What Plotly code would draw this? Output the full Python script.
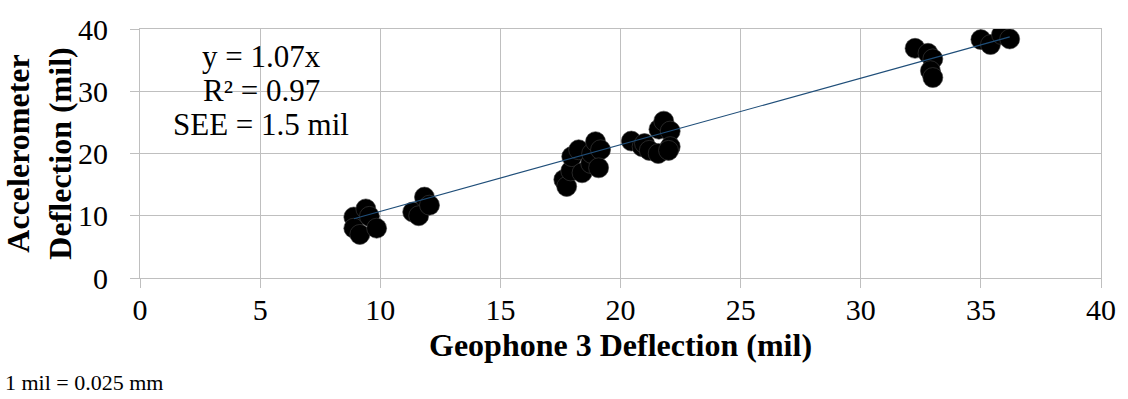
import plotly.graph_objects as go

geophone = [8.9, 8.9, 9.15, 9.4, 9.55, 9.85,
            11.35, 11.6, 11.84, 12.05,
            17.64, 17.76, 17.93, 17.97, 18.26, 18.4, 18.76, 18.8, 18.96, 19.17, 19.09,
            20.45, 20.9, 21.0, 21.2, 21.57, 21.6, 21.8, 22.07, 22.07, 22.0,
            32.26, 32.8, 33.0, 32.9, 33.0,
            35.0, 35.4, 35.86, 36.2]
accel = [9.8, 8.0, 7.0, 11.1, 9.9, 8.0,
         10.6, 10.0, 13.0, 11.7,
         15.8, 14.7, 17.2, 19.5, 20.6, 16.9, 18.4, 20.0, 21.9, 20.6, 17.7,
         22.0, 21.1, 21.6, 20.5, 20.0, 23.9, 25.2, 23.6, 21.1, 20.5,
         36.9, 36.1, 35.2, 33.3, 32.2,
         38.3, 37.5, 39.1, 38.4]
slope = 1.07
trend_x = [min(geophone), max(geophone)]
trend_y = [slope * v for v in trend_x]
x_ticks = [0, 5, 10, 15, 20, 25, 30, 35, 40]
y_ticks = [0, 10, 20, 30, 40]
stats_lines = ["y = 1.07x", "R² = 0.97", "SEE = 1.5 mil"]
x_title = "Geophone 3 Deflection (mil)"
y_title = "Accelerometer<br>Deflection (mil)"
footnote = "1 mil = 0.025 mm"

font = "Liberation Serif, Times New Roman, serif"
grid = "#bfbfbf"

fig = go.Figure()
fig.add_trace(go.Scatter(x=geophone, y=accel, mode="markers",
                         marker=dict(size=20, color="black",
                                     line=dict(color="#404040", width=0.6)),
                         showlegend=False, hoverinfo="skip"))
fig.add_trace(go.Scatter(x=trend_x, y=trend_y, mode="lines",
                         line=dict(color="#1f4e79", width=1.2),
                         showlegend=False, hoverinfo="skip"))

annotations = []
for i, line in enumerate(stats_lines):
    annotations.append(dict(text=line, xref="paper", yref="paper",
                            x=0.126, y=0.891 - i * 0.137, xanchor="center",
                            yanchor="middle", showarrow=False,
                            font=dict(size=31, family=font)))
annotations.append(dict(text="<b>" + x_title + "</b>", xref="paper", yref="paper",
                        x=0.5, y=-0.27, xanchor="center", yanchor="middle",
                        showarrow=False, font=dict(size=32, family=font)))
annotations.append(dict(text=footnote, xref="paper", yref="paper",
                        x=-0.143, y=-0.418, xanchor="left", yanchor="middle",
                        showarrow=False, font=dict(size=22, family=font)))

fig.update_layout(
    width=1128, height=399,
    margin=dict(l=139, r=23, t=22, b=121),
    paper_bgcolor="white", plot_bgcolor="white",
    font=dict(family=font, size=30, color="black"),
    xaxis=dict(range=[0, 40], tickvals=x_ticks, showgrid=True, gridcolor=grid,
               gridwidth=1, zeroline=False, showline=True, linecolor=grid,
               mirror=True, ticks="outside", ticklen=9, tickcolor=grid,
               tickfont=dict(size=30), ticklabelstandoff=-4),
    yaxis=dict(range=[0, 40], tickvals=y_ticks, showgrid=True, gridcolor=grid,
               gridwidth=1, zeroline=False, showline=True, linecolor=grid,
               mirror=True, ticks="outside", ticklen=9, tickcolor=grid,
               tickfont=dict(size=30), ticklabelstandoff=16,
               title=dict(text="<b>" + y_title + "</b>",
                          font=dict(size=32), standoff=2)),
    annotations=annotations,
)

fig.write_html("out.html", config={"displayModeBar": False},
               post_script="document.body.style.margin='0';document.body.style.padding='0';document.body.style.overflow='hidden';")
